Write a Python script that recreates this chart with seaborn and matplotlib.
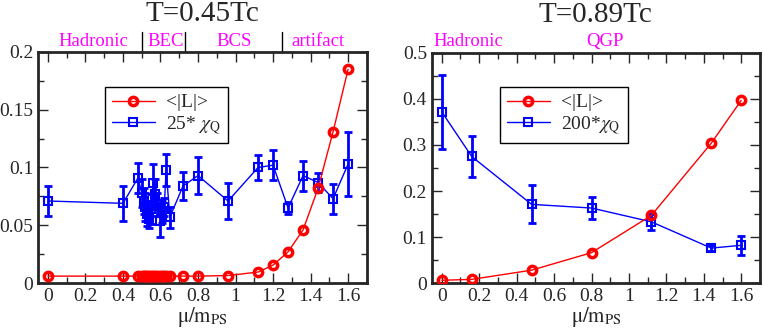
import numpy as np
import pandas as pd
import matplotlib
matplotlib.use('Agg')
import matplotlib.pyplot as plt
from matplotlib.ticker import MultipleLocator, FuncFormatter
import seaborn as sns

# T = 0.45 Tc
mu_L45 = [0, 0.4, 0.48, 0.5, 0.51, 0.52, 0.53, 0.54, 0.55, 0.56, 0.57, 0.58, 0.6,
          0.61, 0.62, 0.63, 0.65, 0.72, 0.8, 0.96, 1.12, 1.2, 1.28, 1.36, 1.44, 1.52, 1.6]
L45 = [0.006, 0.006, 0.006, 0.006, 0.006, 0.006, 0.006, 0.006, 0.006, 0.006, 0.006,
       0.006, 0.006, 0.006, 0.006, 0.006, 0.006, 0.006, 0.006, 0.0065, 0.0095, 0.0155,
       0.027, 0.046, 0.082, 0.131, 0.185]
chi45 = [0.071, 0.069, 0.091, 0.078, 0.071, 0.066, 0.060, 0.055, 0.064, 0.087, 0.077,
         0.068, 0.054, 0.062, 0.066, 0.098, 0.057, 0.084, 0.093, 0.071, 0.100, 0.102,
         0.065, 0.093, 0.087, 0.073, 0.103]
chi45_err = [0.013, 0.015, 0.013, 0.012, 0.011, 0.012, 0.011, 0.007, 0.013, 0.016, 0.013,
             0.010, 0.014, 0.010, 0.008, 0.014, 0.009, 0.012, 0.016, 0.016, 0.011, 0.013,
             0.005, 0.013, 0.008, 0.013, 0.028]

# T = 0.89 Tc
mu_89 = [0, 0.16, 0.48, 0.8, 1.12, 1.44, 1.6]
L89 = [0.006, 0.008, 0.028, 0.066, 0.147, 0.304, 0.397]
chi89 = [0.372, 0.275, 0.171, 0.163, 0.133, 0.076, 0.082]
chi89_err = [0.080, 0.044, 0.041, 0.024, 0.017, 0.007, 0.020]

regions45 = ['Hadronic', 'BEC', 'BCS', 'artifact']
region45_pos = [0.24, 0.63, 0.99, 1.44]
region45_bounds = [0.5, 0.73, 1.25]
regions89 = ['Hadronic', 'QGP']
region89_pos = [0.14, 0.87]

sns.set_style('ticks')
plt.rcParams['font.family'] = ['Liberation Serif', 'DejaVu Serif']
plt.rcParams['mathtext.fontset'] = 'stix'

fig = plt.figure(figsize=(7.63, 3.33), dpi=100)
ax1 = fig.add_axes([0.0498, 0.150, 0.431, 0.694])
ax2 = fig.add_axes([0.566, 0.150, 0.430, 0.691])

fmt = FuncFormatter(lambda v, p: '%g' % round(v, 4))


def panel(ax, mu_l, lval, mu_c, cval, cerr, chi_label, ymax, ymaj, title):
    dl = pd.DataFrame({'mu': mu_l, 'v': lval})
    dc = pd.DataFrame({'mu': mu_c, 'v': cval})
    sns.lineplot(data=dl, x='mu', y='v', ax=ax, color='red', lw=1, marker='o',
                 markersize=6, markerfacecolor='none', markeredgecolor='red',
                 markeredgewidth=2.5, label='<|L|>', zorder=3)
    ax.errorbar(mu_c, cval, yerr=cerr, fmt='none', ecolor='blue', elinewidth=2,
                capsize=3, capthick=2, zorder=2)
    sns.lineplot(data=dc, x='mu', y='v', ax=ax, color='blue', lw=1, marker='s',
                 markersize=6, markerfacecolor='none', markeredgecolor='blue',
                 markeredgewidth=1.5, label=chi_label, zorder=2)
    ax.set_xlim(-0.053, 1.7)
    ax.set_ylim(0, ymax)
    ax.xaxis.set_major_locator(MultipleLocator(0.2))
    ax.xaxis.set_minor_locator(MultipleLocator(0.1))
    ax.yaxis.set_major_locator(MultipleLocator(ymaj))
    ax.yaxis.set_minor_locator(MultipleLocator(ymaj / 2))
    ax.xaxis.set_major_formatter(fmt)
    ax.yaxis.set_major_formatter(fmt)
    ax.tick_params(which='both', direction='in', top=True, right=True, labelsize=14)
    ax.tick_params(which='major', length=7, width=1)
    ax.tick_params(which='minor', length=4, width=1)
    for s in ax.spines.values():
        s.set_linewidth(2)
    ax.set_xlabel(r'$\mathrm{\mu/m}_{\mathrm{PS}}$', fontsize=15, labelpad=0)
    ax.set_ylabel('')
    ax.set_title(title, fontsize=21, pad=22)


panel(ax1, mu_L45, L45, mu_L45, chi45, chi45_err, r'25* $\chi_\mathrm{Q}$', 0.2, 0.05,
      'T=0.45Tc')
panel(ax2, mu_89, L89, mu_89, chi89, chi89_err, r'200*$\chi_\mathrm{Q}$', 0.5, 0.1,
      'T=0.89Tc')

for ax, box in [(ax1, (0.204, 0.848)), (ax2, (0.208, 0.852))]:
    leg = ax.legend(loc='upper left', bbox_to_anchor=box, fontsize=14, fancybox=False,
                    framealpha=1, edgecolor='black', borderpad=0.35, handlelength=2.2,
                    labelspacing=0.15, borderaxespad=0, handletextpad=0.6)
    leg.get_frame().set_linewidth(1)

for lab, x in zip(regions45, region45_pos):
    ax1.text(x, 1.045, lab, transform=ax1.get_xaxis_transform(), ha='center',
             va='center', color='magenta', fontsize=13.5)
for x in region45_bounds:
    ax1.plot([x, x], [1.0, 1.085], transform=ax1.get_xaxis_transform(), color='black',
             lw=1, clip_on=False)
for lab, x in zip(regions89, region89_pos):
    ax2.text(x, 1.05, lab, transform=ax2.get_xaxis_transform(), ha='center',
             va='center', color='magenta', fontsize=13.5)

fig.savefig('out.png', dpi=100)
